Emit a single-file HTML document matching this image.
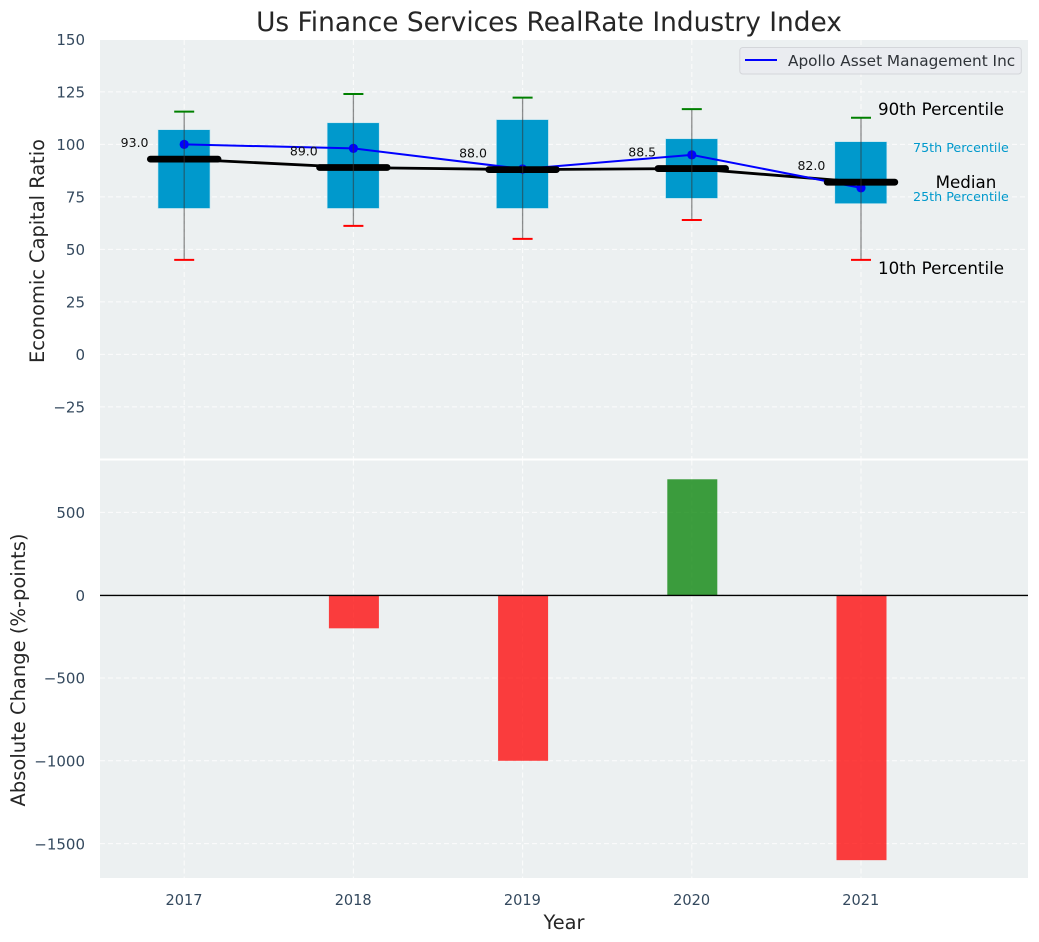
<!DOCTYPE html>
<html>
<head>
<meta charset="utf-8">
<title>Us Finance Services RealRate Industry Index</title>
<style>
html,body{margin:0;padding:0;background:#fff;}
svg{display:block;font-family:"DejaVu Sans","Liberation Sans",sans-serif;}
</style>
</head>
<body>
<svg id="chart" width="1039" height="942" viewBox="0 0 1039 942" xmlns="http://www.w3.org/2000/svg"></svg>
<script>
const years = [2017, 2018, 2019, 2020, 2021];
const p10 = [45, 61.2, 55, 64, 45];
const p25 = [69.5, 69.5, 69.5, 74.3, 71.8];
const p75 = [107, 110.3, 111.8, 102.7, 101.3];
const p90 = [115.6, 124, 122.3, 116.8, 112.7];
const medians = [93, 89, 88, 88.5, 82];
const medianLabels = ['93.0', '89.0', '88.0', '88.5', '82.0'];
const apollo = [100, 98.1, 88.3, 95, 79.3];
const changes = [0, -200, -1000, 700, -1600];
const topTicks = [150, 125, 100, 75, 50, 25, 0, -25];
const bottomTicks = [500, 0, -500, -1000, -1500];

const NS = 'http://www.w3.org/2000/svg';
const svg = document.getElementById('chart');
const L = 100, R = 1028, T1 = 40, B1 = 458.5, T2 = 460.5, B2 = 878;
const xS = v => 184.2 + (v - 2017) * 169.2;
const yT = v => 354.4 - v * 2.1;
const yB = v => 595.2 - v * 0.1656;
const fmt = v => String(v).replace('-', '\u2212');

function mk(tag, attrs, parent, text) {
  const e = document.createElementNS(NS, tag);
  for (const k in attrs) e.setAttribute(k, attrs[k]);
  if (text !== undefined) e.textContent = text;
  (parent || svg).appendChild(e);
  return e;
}

let el;
el = mk('rect', {x: L, y: T1, width: R - L, height: B1 - T1, fill: '#ecf0f1'});


el = mk('rect', {x: L, y: T2, width: R - L, height: B2 - T2, fill: '#ecf0f1'});



const gridStyle = {stroke: '#fff', 'stroke-width': 1, 'stroke-dasharray': '5 3', opacity: 0.85};
years.forEach(yr => {
  el = mk('line', Object.assign({x1: xS(yr), x2: xS(yr), y1: T1, y2: B1}, gridStyle));
  
  
  el = mk('line', Object.assign({x1: xS(yr), x2: xS(yr), y1: T2, y2: B2}, gridStyle));
  
  
  el = mk('text', {x: xS(yr) - 0.2, y: 905, 'text-anchor': 'middle', 'font-size': 15.3, fill: '#34495e', textLength: 37, lengthAdjust: 'spacingAndGlyphs'}, svg, yr);
  
  
});
topTicks.forEach(t => {
  el = mk('line', Object.assign({x1: L, x2: R, y1: yT(t), y2: yT(t)}, gridStyle));
  
  
  el = mk('text', {x: 85, y: yT(t) + 5.7, 'text-anchor': 'end', 'font-size': 15, fill: '#34495e'}, svg, fmt(t));
  
  
});
bottomTicks.forEach(t => {
  el = mk('line', Object.assign({x1: L, x2: R, y1: yB(t), y2: yB(t)}, gridStyle));
  
  
  el = mk('text', {x: 85, y: yB(t) + 5.7, 'text-anchor': 'end', 'font-size': 15, fill: '#34495e'}, svg, fmt(t));
  
  
});

/* boxes */
years.forEach((yr, i) => {
  const x = xS(yr);
  el = mk('rect', {x: x - 26.2, y: yT(p75[i]), width: 52, height: yT(p25[i]) - yT(p75[i]), fill: '#0099cc', stroke: '#c0e4ef', 'stroke-width': 0.6});
  
  
});

/* median connector */
el = mk('polyline', {points: years.map((yr, i) => xS(yr) + ',' + yT(medians[i])).join(' '), fill: 'none', stroke: '#000', 'stroke-width': 2.8});



/* apollo line */
el = mk('polyline', {points: years.map((yr, i) => xS(yr) + ',' + yT(apollo[i])).join(' '), fill: 'none', stroke: '#0000ff', 'stroke-width': 2});


years.forEach((yr, i) => {
  el = mk('circle', {cx: xS(yr), cy: yT(apollo[i]), r: 4.6, fill: '#0000ff'});
  
  
});

/* median bars */
years.forEach((yr, i) => {
  const x = xS(yr), y = yT(medians[i]);
  el = mk('line', {x1: x - 33.8, x2: x + 33.8, y1: y, y2: y, stroke: '#000', 'stroke-width': 6.8, 'stroke-linecap': 'round'});
  
  
  el = mk('text', {x: x - 49.6, y: y - 12, 'text-anchor': 'middle', 'font-size': 12.5, fill: '#111'}, svg, medianLabels[i]);
  
  
});

/* whiskers */
years.forEach((yr, i) => {
  const x = xS(yr);
  el = mk('line', {x1: x, x2: x, y1: yT(p90[i]), y2: yT(p10[i]), stroke: '#333', 'stroke-opacity': 0.55, 'stroke-width': 1.3});
  
  
  el = mk('line', {x1: x - 10, x2: x + 10, y1: yT(p90[i]), y2: yT(p90[i]), stroke: '#008000', 'stroke-width': 2});
  
  
  el = mk('line', {x1: x - 10, x2: x + 10, y1: yT(p10[i]), y2: yT(p10[i]), stroke: '#ff0000', 'stroke-width': 2});
  
  
});

/* percentile annotations */
const last = years.length - 1;
const lastX = xS(years[last]);
el = mk('text', {x: lastX + 17, y: yT(p90[last]) - 2.7, 'font-size': 16.7, fill: '#000'}, svg, '90th Percentile');


el = mk('text', {x: lastX + 17, y: yT(p10[last]) + 14, 'font-size': 16.7, fill: '#000'}, svg, '10th Percentile');


el = mk('text', {x: lastX + 105, y: yT(medians[last]) + 6, 'text-anchor': 'middle', 'font-size': 16.7, fill: '#000'}, svg, 'Median');


el = mk('text', {x: lastX + 52, y: yT(p75[last]) + 10.3, 'font-size': 12.7, fill: '#0099cc'}, svg, '75th Percentile');


el = mk('text', {x: lastX + 52, y: yT(p25[last]) - 2.6, 'font-size': 12.7, fill: '#0099cc'}, svg, '25th Percentile');



/* change bars */
years.forEach((yr, i) => {
  if (changes[i] === 0) return;
  const top = Math.min(yB(changes[i]), yB(0));
  const h = Math.abs(yB(changes[i]) - yB(0));
  el = mk('rect', {x: xS(yr) - 24.5, y: top, width: 50, height: h, fill: changes[i] > 0 ? '#008000' : '#ff0000', opacity: 0.75});
  
  
});
el = mk('line', {x1: L, x2: R, y1: yB(0) + 0.2, y2: yB(0) + 0.2, stroke: '#000', 'stroke-width': 1.4});



/* legend */
el = mk('rect', {x: 739.8, y: 47.5, width: 281.5, height: 26.5, rx: 3, fill: '#eaecf0', stroke: '#d4d6da', 'stroke-width': 1});


el = mk('line', {x1: 745, x2: 777, y1: 60, y2: 60, stroke: '#0000ff', 'stroke-width': 2});


el = mk('text', {x: 788, y: 66, 'font-size': 15.3, fill: '#2f3338'}, svg, 'Apollo Asset Management Inc');



/* titles */
el = mk('text', {x: 549, y: 31, 'text-anchor': 'middle', 'font-size': 26.4, fill: '#262626'}, svg, 'Us Finance Services RealRate Industry Index');


el = mk('text', {x: 564, y: 929, 'text-anchor': 'middle', 'font-size': 19.4, fill: '#262626'}, svg, 'Year');


el = mk('text', {x: 44, y: 251, 'text-anchor': 'middle', 'font-size': 19.4, fill: '#262626', transform: 'rotate(-90 44 251)'}, svg, 'Economic Capital Ratio');


el = mk('text', {x: 25, y: 670, 'text-anchor': 'middle', 'font-size': 19.5, fill: '#262626', transform: 'rotate(-90 25 670)'}, svg, 'Absolute Change (%-points)');


</script>
</body>
</html>
